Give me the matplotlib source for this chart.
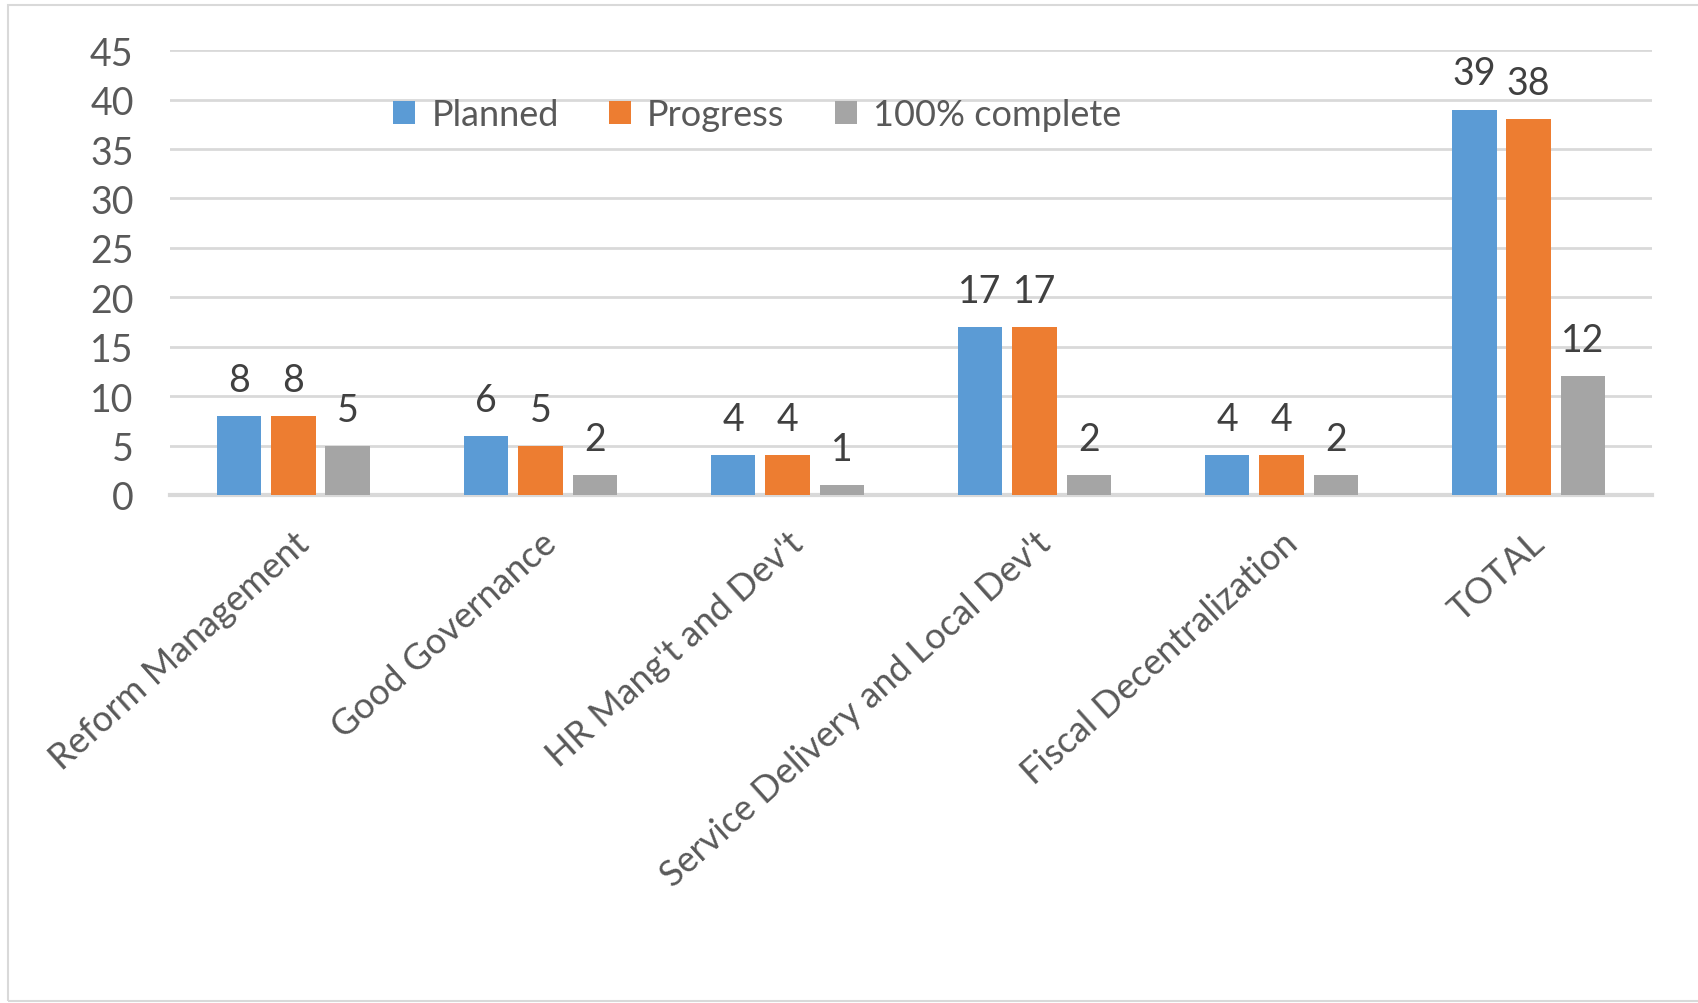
import matplotlib.pyplot as plt
import numpy as np
from matplotlib.patches import Rectangle

# données
categories = ["Reform Management", "Good Governance", "HR Mang't and Dev't",
              "Service Delivery and Local Dev't", "Fiscal Decentralization", "TOTAL"]
planned = [8, 6, 4, 17, 4, 39]
progress = [8, 5, 4, 17, 4, 38]
complete = [5, 2, 1, 2, 2, 12]
series_names = ["Planned", "Progress", "100% complete"]

colors = ["#5B9BD5", "#ED7D31", "#A5A5A5"]
text_color = "#595959"

plt.rcParams['font.family'] = ['Lato', 'DejaVu Sans']

fig = plt.figure(figsize=(16.98, 10.04), dpi=100)
ax = fig.add_axes([0.100, 0.506, 0.873, 0.443])

# cadre gris clair autour du graphique
fig.patches.append(Rectangle((0.005, 0.002), 1.2, 0.992, transform=fig.transFigure,
                             fill=False, edgecolor="#d9d9d9", linewidth=1.5))

x = np.arange(len(categories))
width = 0.18
step = 0.22
for i, (vals, name) in enumerate(zip([planned, progress, complete], series_names)):
    bars = ax.bar(x + (i - 1) * step, vals, width, color=colors[i], label=name, zorder=3)
    for b, v in zip(bars, vals):
        ax.annotate(str(v), (b.get_x() + b.get_width() / 2, v), xytext=(0, 13),
                    textcoords="offset points", ha="center", va="bottom",
                    fontsize=27, color="#404040")

ax.set_ylim(0, 45)
ax.set_yticks(range(0, 46, 5))
ax.set_xlim(-0.5, len(categories) - 0.5)
ax.grid(axis="y", color="#d9d9d9", linewidth=2, zorder=0)
for s in ["top", "right", "left"]:
    ax.spines[s].set_visible(False)
ax.spines["bottom"].set_color("#d9d9d9")
ax.spines["bottom"].set_linewidth(3)
ax.tick_params(axis="both", length=0, labelsize=27, labelcolor=text_color)
ax.tick_params(axis="y", pad=26)

ax.set_xticks(x)
ax.set_xticklabels(categories, rotation=42, ha="right", va="top", rotation_mode="anchor",
                   fontsize=26)
ax.tick_params(axis="x", pad=22)

fig.legend(loc="center", bbox_to_anchor=(0.446, 0.885), ncol=3, frameon=False,
           fontsize=26, labelcolor=text_color, handlelength=0.6, handleheight=0.6,
           columnspacing=1.4, handletextpad=0.45)

fig.savefig("out.png", dpi=100)
